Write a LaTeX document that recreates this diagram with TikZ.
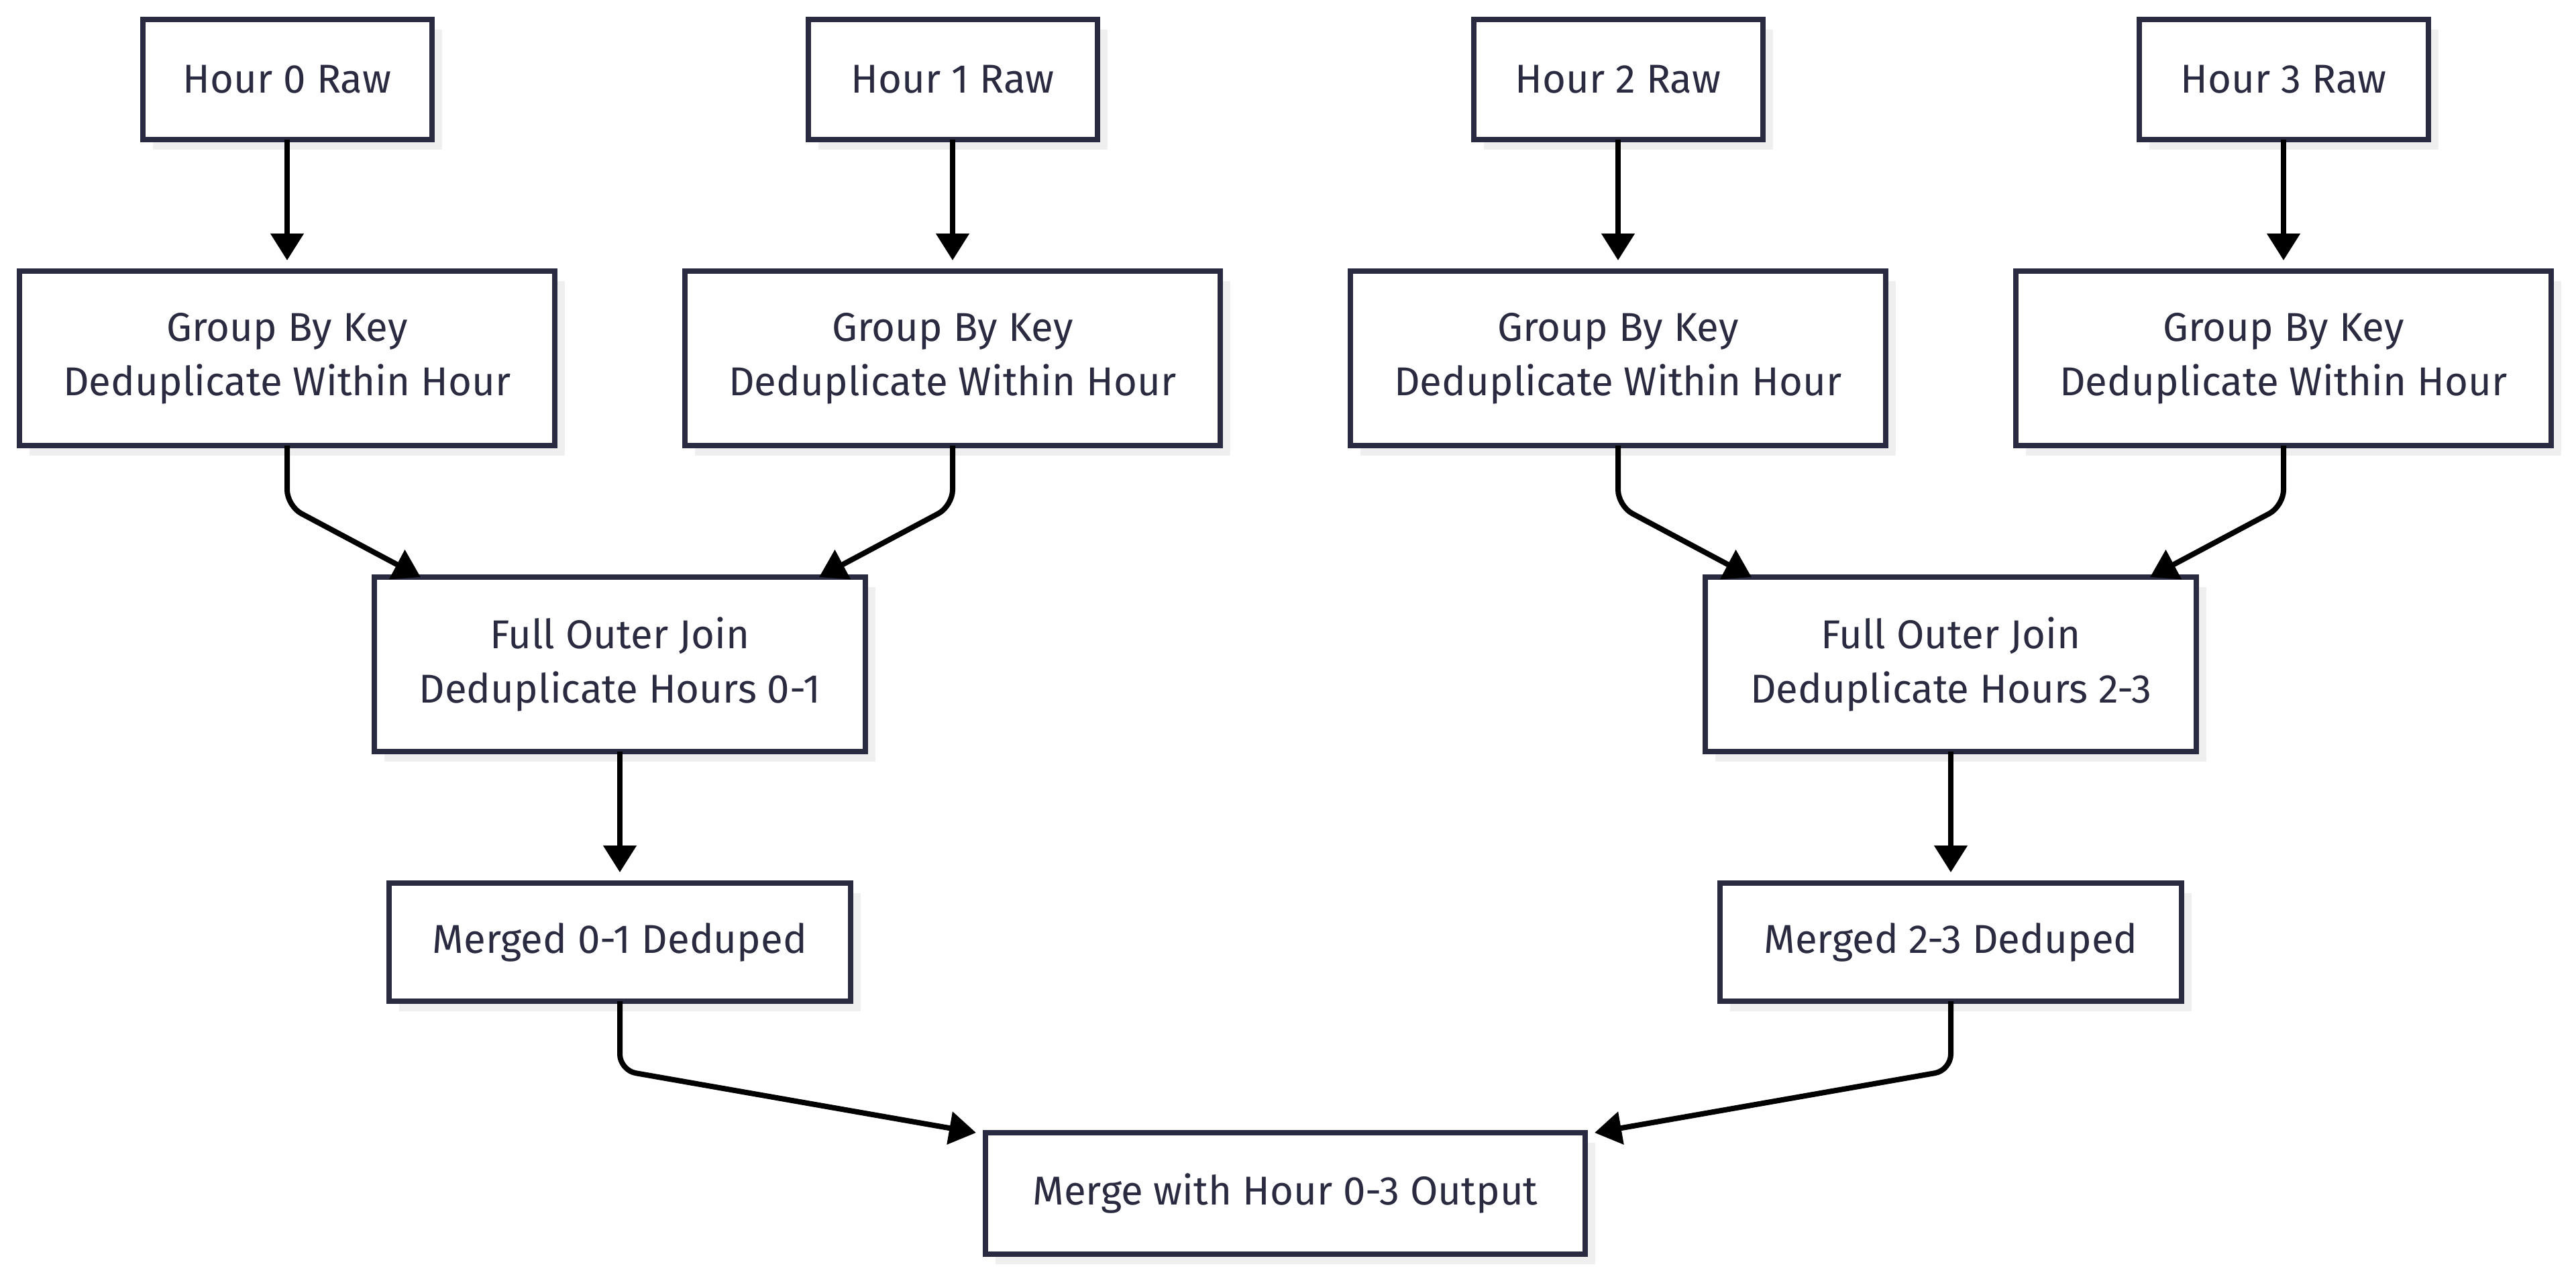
\documentclass[tikz,border=0pt]{standalone}
\usepackage{fontspec}
\setmainfont{Fira Sans}
\usetikzlibrary{arrows.meta,positioning,shadows,calc}
\definecolor{dgInk}{HTML}{2A2A40}
\definecolor{dgShadow}{HTML}{EFEFEF}

\begin{document}
\begin{tikzpicture}[
  node distance=49pt and 48.5pt,
  box/.style={draw=dgInk,fill=white,line width=2pt,text=dgInk,align=center,
    font=\fontsize{15}{20.25}\selectfont,inner sep=0pt,outer sep=0pt,
    drop shadow={shadow xshift=3.75pt,shadow yshift=-3.75pt,fill=dgShadow,opacity=1}},
  rawbox/.style={box,minimum width=107.75pt,minimum height=44.75pt},
  grpbox/.style={box,minimum width=199.5pt,minimum height=65pt},
  joinbox/.style={box,minimum width=183pt,minimum height=65pt},
  mergedbox/.style={box,minimum width=172pt,minimum height=44pt},
  outbox/.style={box,minimum width=223.5pt,minimum height=45.25pt},
  arrow/.style={-{Triangle[length=10pt,width=12pt]},line width=2pt,draw=black},
  elbow/.style={arrow,rounded corners=6pt}
]
\useasboundingbox (0,0) rectangle (960pt,-476.25pt);
\node[grpbox] (g0) at (107pt,-133.5pt) {Group By Key\\Deduplicate Within Hour};
\node[grpbox,right=of g0] (g1) {Group By Key\\Deduplicate Within Hour};
\node[grpbox,right=of g1] (g2) {Group By Key\\Deduplicate Within Hour};
\node[grpbox,right=of g2] (g3) {Group By Key\\Deduplicate Within Hour};
\node[rawbox,above=of g0] (h0) {Hour 0 Raw};
\node[rawbox,above=of g1] (h1) {Hour 1 Raw};
\node[rawbox,above=of g2] (h2) {Hour 2 Raw};
\node[rawbox,above=of g3] (h3) {Hour 3 Raw};
\coordinate (c01) at ($(g0.south)!0.5!(g1.south)$);
\coordinate (c23) at ($(g2.south)!0.5!(g3.south)$);
\node[joinbox,below=of c01] (j01) {Full Outer Join\\Deduplicate Hours 0-1};
\node[joinbox,below=of c23] (j23) {Full Outer Join\\Deduplicate Hours 2-3};
\node[mergedbox,below=of j01] (m01) {Merged 0-1 Deduped};
\node[mergedbox,below=of j23] (m23) {Merged 2-3 Deduped};
\coordinate (c03) at ($(m01.south)!0.5!(m23.south)$);
\node[outbox,below=of c03] (out) {Merge with Hour 0-3 Output};
\draw[arrow,shorten >=4pt] (h0) -- (g0);
\draw[arrow,shorten >=4pt] (h1) -- (g1);
\draw[arrow,shorten >=4pt] (h2) -- (g2);
\draw[arrow,shorten >=4pt] (h3) -- (g3);
\draw[elbow] (g0.south) -- ++(0,-22.5pt) -- ([xshift=-74.25pt]j01.north);
\draw[elbow] (g1.south) -- ++(0,-22.5pt) -- ([xshift=74.25pt]j01.north);
\draw[elbow] (g2.south) -- ++(0,-22.5pt) -- ([xshift=-74.25pt]j23.north);
\draw[elbow] (g3.south) -- ++(0,-22.5pt) -- ([xshift=74.25pt]j23.north);
\draw[arrow,shorten >=4pt] (j01) -- (m01);
\draw[arrow,shorten >=4pt] (j23) -- (m23);
\draw[elbow] (m01.south) -- ++(0,-25.75pt) -- ([xshift=-3.5pt]out.north west);
\draw[elbow] (m23.south) -- ++(0,-25.75pt) -- ([xshift=3.5pt]out.north east);
\end{tikzpicture}
\end{document}
